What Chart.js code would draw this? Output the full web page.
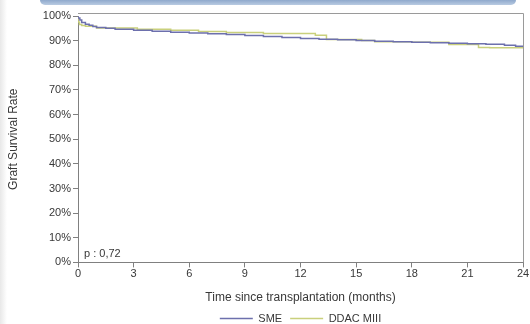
<!DOCTYPE html>
<html>
<head>
<meta charset="utf-8">
<script src="https://cdn.jsdelivr.net/npm/chart.js@4/dist/chart.umd.min.js"></script>
<style>
  html, body { margin: 0; padding: 0; background: #fff; }
  .wrap { position: relative; width: 530px; height: 324px; overflow: hidden; }
  .band { position: absolute; left: 40px; top: 0; width: 476px; height: 5px;
          background: linear-gradient(#8fa9cc, #b9cbe2); border-radius: 0 0 6px 6px; }
  .edge { position: absolute; left: 0; top: 0; width: 7px; height: 324px;
          background: linear-gradient(90deg, #e8e8e8, #fff); }
  canvas { position: absolute; left: 0; top: 0; }
</style>
</head>
<body>
<div class="wrap">
  <div class="band"></div>
  <div class="edge"></div>
  <canvas class="survival" width="530" height="324"></canvas>
</div>
<script>
// months since transplantation / survival (%)
const SME_TIMES = [0, 0.1, 0.2, 0.4, 0.6, 0.8, 1.0, 1.5, 2, 3, 4, 5, 6, 7, 8, 9, 10, 11, 12, 13, 14, 15, 16, 17, 18, 19, 20, 21, 22, 23, 23.6, 24];
const SME_SURV = [100, 99.2, 98.4, 97.4, 96.7, 96.2, 95.7, 95.3, 95.0, 94.6, 94.2, 93.8, 93.4, 93.1, 92.8, 92.5, 92.1, 91.7, 91.3, 90.9, 90.6, 90.4, 90.1, 89.8, 89.5, 89.3, 89.1, 88.9, 88.7, 88.5, 88.1, 87.7];

const DDAC_TIMES = [0, 0.08, 0.2, 0.4, 1.0, 3.2, 5, 6.5, 8, 10, 12.8, 13.4, 15.3, 16, 18, 20, 21.6, 22.2, 24];
const DDAC_SURV = [100, 97.6, 96.6, 96.1, 95.8, 95.1, 94.6, 94.2, 93.7, 93.3, 92.9, 92.2, 90.5, 90.1, 89.6, 89.3, 88.4, 87.2, 87.1];

const X_TICKS = [0, 3, 6, 9, 12, 15, 18, 21, 24];
const P_VALUE = 'p : 0,72';

const toPoints = (times, values) => times.map((t, i) => ({ x: t, y: values[i] }));

const AXIS_COLOR = '#808080';
const TEXT_COLOR = '#383838';
const FAMILY = 'Liberation Sans, Arial, sans-serif';

const frame = {
  id: 'frame',
  afterDraw(chart) {
    const { ctx, chartArea } = chart;
    ctx.save();
    ctx.strokeStyle = '#9a9a9a';
    ctx.lineWidth = 1;
    ctx.beginPath();
    ctx.moveTo(chartArea.left, chartArea.top - 2.5);
    ctx.lineTo(chartArea.right + 0.5, chartArea.top - 2.5);
    ctx.lineTo(chartArea.right + 0.5, chartArea.bottom);
    ctx.stroke();
    ctx.fillStyle = TEXT_COLOR;
    ctx.font = '11px ' + FAMILY;
    ctx.textBaseline = 'alphabetic';
    ctx.fillText(P_VALUE, chartArea.left + 6, chartArea.bottom - 5);
    ctx.restore();
  }
};

Chart.defaults.font = { family: FAMILY, size: 11 };
Chart.defaults.color = TEXT_COLOR;

new Chart(document.querySelector('.survival'), {
  type: 'line',
  data: {
    datasets: [{
      label: 'SME',
      data: toPoints(SME_TIMES, SME_SURV),
      borderColor: '#6d70ad',
      borderWidth: 1.5,
      stepped: 'after',
      pointRadius: 0,
      fill: false
    }, {
      label: 'DDAC MIII',
      data: toPoints(DDAC_TIMES, DDAC_SURV),
      borderColor: '#c9d07c',
      borderWidth: 1.5,
      stepped: 'after',
      pointRadius: 0,
      fill: false
    }]
  },
  options: {
    responsive: false,
    animation: false,
    layout: { padding: { top: 16, right: 7, left: 0, bottom: -10 } },
    plugins: {
      tooltip: { enabled: false },
      legend: {
        position: 'bottom',
        fullSize: false,
        labels: {
          usePointStyle: true,
          pointStyle: 'line',
          pointStyleWidth: 33,
          boxHeight: 8,
          padding: 8,
          font: { family: FAMILY, size: 11 }
        }
      }
    },
    scales: {
      x: {
        type: 'linear',
        min: 0,
        max: 24,
        afterBuildTicks: scale => { scale.ticks = X_TICKS.map(v => ({ value: v })); },
        ticks: { padding: 0, maxRotation: 0 },
        grid: { drawOnChartArea: false, drawTicks: true, tickLength: 5, color: AXIS_COLOR },
        border: { color: AXIS_COLOR },
        title: { display: true, text: 'Time since transplantation (months)', font: { size: 12 }, padding: { top: 10, bottom: 0 } }
      },
      y: {
        min: 0,
        max: 100,
        afterFit: scale => { scale.width = 78; },
        ticks: { stepSize: 10, padding: 2, callback: v => v + '%' },
        grid: { drawOnChartArea: false, drawTicks: true, tickLength: 5, color: AXIS_COLOR },
        border: { color: AXIS_COLOR },
        title: { display: true, text: 'Graft Survival Rate', font: { size: 12 }, padding: { top: 6, bottom: 0 } }
      }
    }
  },
  plugins: [frame]
});
</script>
</body>
</html>
